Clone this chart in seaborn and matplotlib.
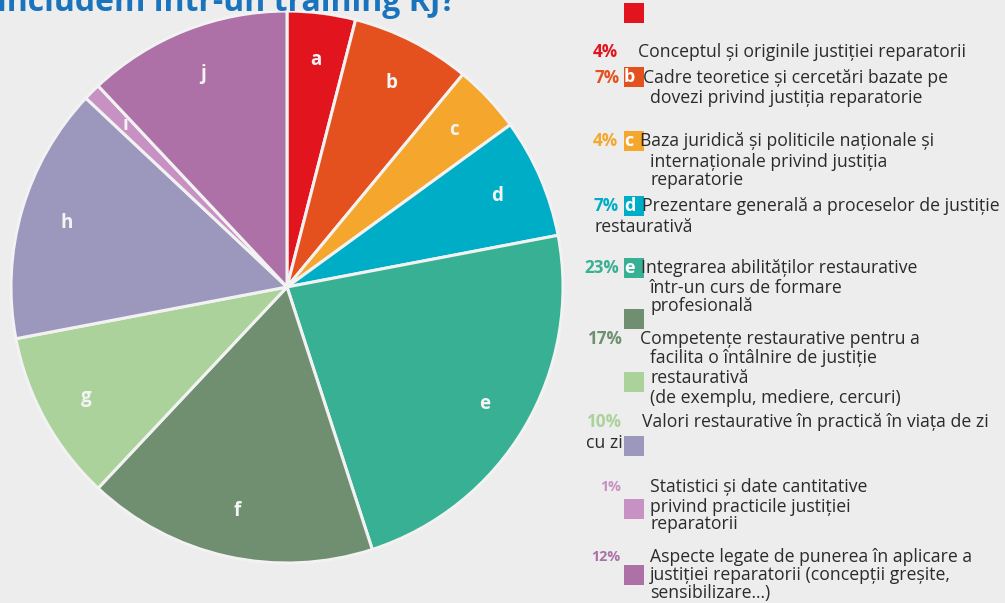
import matplotlib
matplotlib.use("Agg")
import matplotlib.pyplot as plt
from matplotlib.patches import Rectangle
import seaborn as sns

# ---------------- data ----------------
slice_labels = ["a", "b", "c", "d", "e", "f", "g", "h", "i", "j"]
slice_values = [4, 7, 4, 7, 23, 17, 10, 15, 1, 12]
slice_colors = ["#E2151F", "#E4501E", "#F5A62C", "#00ADC6", "#37B094",
                "#6F8F70", "#AAD29A", "#9C97BC", "#C891C3", "#AD71A8"]
legend_pct_shown = [True, True, True, True, True, True, True, False, True, True]
legend_box_letters = ["", "b", "c", "d", "e", "", "", "", "", ""]
legend_texts = [
    ["Conceptul și originile justiției reparatorii"],
    ["Cadre teoretice și cercetări bazate pe", "dovezi privind justiția reparatorie"],
    ["Baza juridică și politicile naționale și", "internaționale privind justiția", "reparatorie"],
    ["Prezentare generală a proceselor de justiție", "restaurativă"],
    ["Integrarea abilităților restaurative", "într-un curs de formare", "profesională"],
    ["Competențe restaurative pentru a", "facilita o întâlnire de justiție", "restaurativă",
     "(de exemplu, mediere, cercuri)"],
    ["Valori restaurative în practică în viața de zi", "cu zi"],
    [],
    ["Statistici și date cantitative", "privind practicile justiției", "reparatorii"],
    ["Aspecte legate de punerea în aplicare a", "justiției reparatorii (concepții greșite,",
     "sensibilizare...)"],
]
title_text = "includem într-un training RJ?"

# ---------------- style ----------------
BG = "#ECEDEC"
sns.set_theme(style="white", rc={"figure.facecolor": BG, "axes.facecolor": BG})
plt.rcParams["font.family"] = ["Open Sans", "DejaVu Sans"]

W, H = 1005, 603
fig = plt.figure(figsize=(W / 100, H / 100), dpi=100)
fig.patch.set_facecolor(BG)

def fx(x):
    return x / W

def fy(y):
    return 1 - y / H

# pie axes: center (287, 287) px, radius 276 px
cx, cy, r = 287, 287, 276
ax = fig.add_axes([fx(cx - r), fy(cy + r), 2 * r / W, 2 * r / H])
ax.set_facecolor(BG)
wedges, texts = ax.pie(
    slice_values, labels=slice_labels, colors=slice_colors,
    startangle=90, counterclock=False, labeldistance=0.83,
    wedgeprops=dict(edgecolor="#F2F2F2", linewidth=2.2),
    textprops=dict(color="#F4F4F4", fontsize=13.5, fontweight="bold",
                   ha="center", va="center"),
)
ax.set_xlim(-1, 1)
ax.set_ylim(-1, 1)
ax.set_aspect("equal")
ax.axis("off")

# title (cropped at top like the reference)
fig.text(fx(-3), fy(11), title_text, color="#1A74BD", fontsize=23,
         fontweight="bold", ha="left", va="baseline")

# ---------------- legend layout ----------------
TXT_SIZE = 12.7
pct_layout = [
    (593, 52, 12.3), (594, 78, 12.3), (593, 141, 12.3), (593, 206, 12.3),
    (584, 268, 12.3), (587, 339, 12.3), (586, 422, 12.3), (0, 0, 0),
    (600, 487, 10.3), (591, 557, 10.3),
]
box_tops = [3, 67, 131, 196, 258, 309, 372, 436, 499, 565]
text_layout = [
    [(638, 52)],
    [(643, 78), (650, 98)],
    [(640, 141), (650, 162), (650, 180)],
    [(642, 206), (594, 227)],
    [(641, 268), (650, 288), (650, 306)],
    [(640, 339), (650, 358), (650, 378), (650, 398)],
    [(642, 422), (586, 443)],
    [],
    [(650, 487), (650, 507), (650, 524)],
    [(650, 557), (650, 575), (650, 593)],
]

for i, col in enumerate(slice_colors):
    top = box_tops[i]
    fig.add_artist(Rectangle((fx(624), fy(top + 20)), 20 / W, 20 / H,
                             transform=fig.transFigure, facecolor=col,
                             edgecolor="none"))
    if legend_box_letters[i]:
        fig.text(fx(624), fy(top + 10), legend_box_letters[i], color="white",
                 fontsize=13, fontweight="bold", ha="left", va="center")
    if legend_pct_shown[i]:
        px, py, ps = pct_layout[i]
        fig.text(fx(px), fy(py), f"{slice_values[i]}%", color=col, fontsize=ps,
                 fontweight="bold", ha="left", va="center")
    for line, (tx, ty) in zip(legend_texts[i], text_layout[i]):
        fig.text(fx(tx), fy(ty), line, color="#2B2B2B", fontsize=TXT_SIZE,
                 ha="left", va="center")

fig.savefig("out.png", dpi=100, facecolor=BG)
